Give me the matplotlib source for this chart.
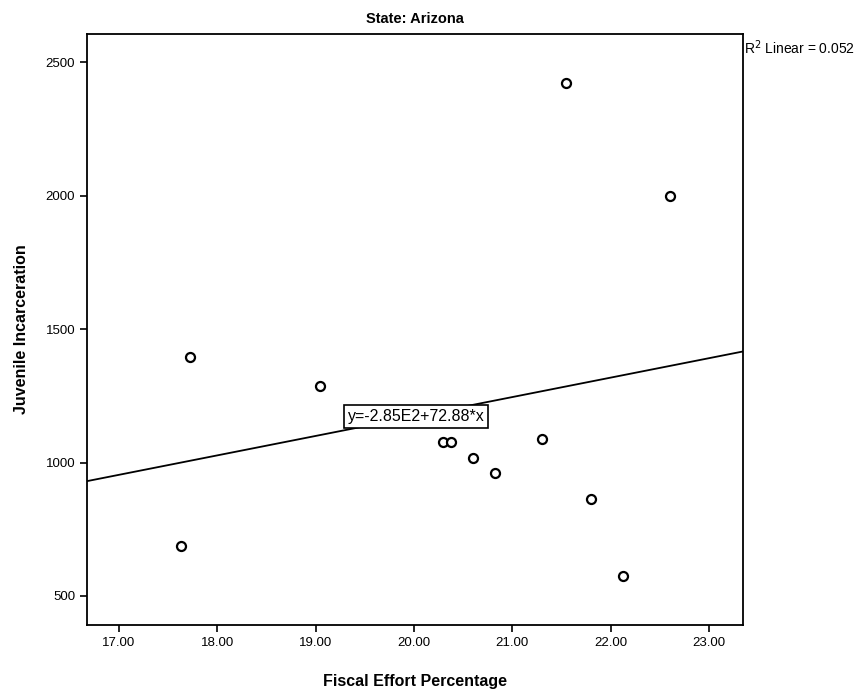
import numpy as np
import matplotlib.pyplot as plt

plt.rcParams['font.family'] = ['Liberation Sans', 'DejaVu Sans']

# values
fiscal_effort = [17.72, 17.63, 19.04, 20.29, 20.38, 20.60, 20.82, 21.30, 21.55, 21.80, 22.12, 22.60]
juvenile_incarceration = [1395, 687, 1288, 1078, 1078, 1016, 960, 1088, 2423, 864, 576, 1998]
intercept = -285.0
slope = 72.88
r_squared = 0.052
x_ticks = [17, 18, 19, 20, 21, 22, 23]
y_ticks = [500, 1000, 1500, 2000, 2500]

fig = plt.figure(figsize=(8.68, 6.96), dpi=100)
ax = fig.add_axes([0.1002, 0.102, 0.7558, 0.849])

xmin, xmax = 16.675, 23.345
ax.set_xlim(xmin, xmax)
ax.set_ylim(391, 2606)

xs = np.array([xmin, xmax])
ax.plot(xs, intercept + slope * xs, color='black', lw=1.3)

ax.plot(fiscal_effort, juvenile_incarceration, 'o', mfc='white', mec='black',
        mew=1.6, ms=6.5, ls='none')

ax.text(20.02, intercept + slope * 20.02, 'y=-2.85E2+72.88*x', fontsize=11.5,
        ha='center', va='center',
        bbox=dict(boxstyle='square,pad=0.25', fc='white', ec='black', lw=1.2))

ax.set_xticks(x_ticks)
ax.set_xticklabels([f'{t:.2f}' for t in x_ticks])
ax.set_yticks(y_ticks)
ax.set_yticklabels([str(t) for t in y_ticks])
ax.tick_params(direction='out', length=5, width=1.2, labelsize=9.5, colors='black')
for s in ax.spines.values():
    s.set_linewidth(1.3)

ax.set_title('State: Arizona', fontsize=10.5, fontweight='bold', pad=8)
ax.set_xlabel('Fiscal Effort Percentage', fontsize=11.5, fontweight='bold', labelpad=18)
ax.set_ylabel('Juvenile Incarceration', fontsize=11.5, fontweight='bold', labelpad=12)

fig.text(0.857, 0.932, f'R$^2$ Linear = {r_squared:.3f}', fontsize=10, ha='left', va='center')

fig.savefig('out.png', dpi=100)
